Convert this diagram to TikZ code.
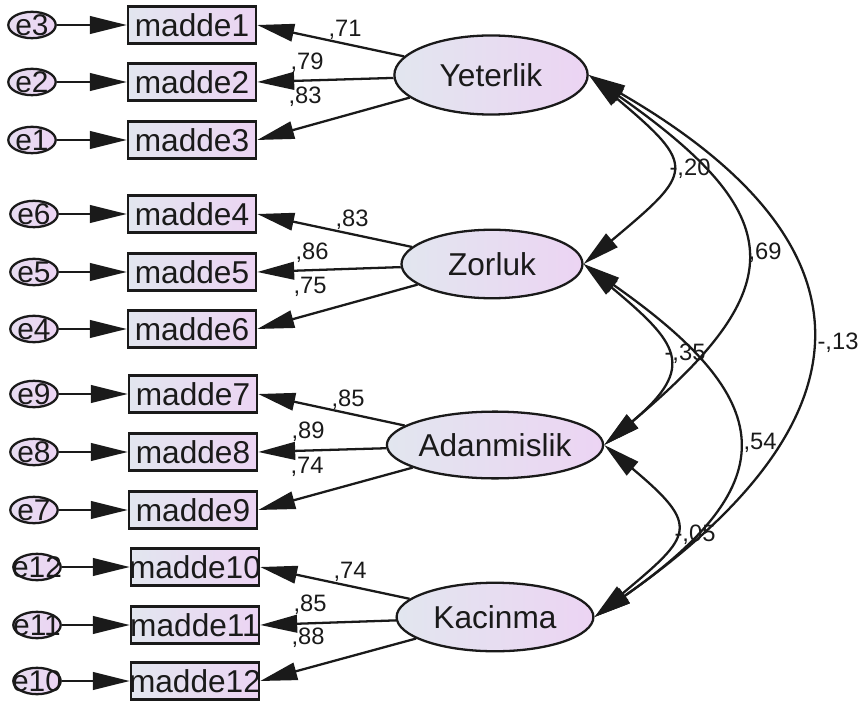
\documentclass[tikz,border=0pt]{standalone}
\usepackage{fontspec}
\setmainfont{Liberation Sans}
\usetikzlibrary{shapes.geometric,arrows.meta}

\definecolor{fillL}{HTML}{E2E6EF}
\definecolor{fillR}{HTML}{ECD4F3}
\definecolor{inkC}{HTML}{1A1A1A}

\newcommand{\BigTxt}{\fontsize{18}{20}\selectfont}
\newcommand{\SmlTxt}{\fontsize{13.5}{15}\selectfont}
\newcommand{\Tip}{Triangle[length=21pt,width=10pt]}

\tikzset{
    obsbox/.style={draw=inkC,line width=1.3pt,left color=fillL,right color=fillR,
        minimum width=73pt,minimum height=21pt,inner sep=0pt,font=\BigTxt,text=inkC},
    latent/.style={draw=inkC,ellipse,line width=1.3pt,left color=fillL,right color=fillR,
        inner sep=0pt,font=\BigTxt,text=inkC},
    errc/.style={draw=inkC,ellipse,line width=1.3pt,left color=fillL!50!fillR,right color=fillR,
        minimum width=27pt,minimum height=15pt,inner sep=0pt},
    errtxt/.style={font=\fontsize{17}{19}\selectfont,inner sep=0pt,text=inkC},
    regarrow/.style={draw=inkC,line width=1.3pt,-{\Tip}},
    covarrow/.style={draw=inkC,line width=1.3pt,{\Tip}-{\Tip}},
    coef/.style={font=\SmlTxt,inner sep=0pt,text=inkC}
}

\begin{document}
\begin{tikzpicture}[x=0.02cm,y=-0.02cm]
        \useasboundingbox (0,0) rectangle (861,702);

        % factors
        \node[latent,minimum width=110pt,minimum height=45pt] (Yet) at (491,75) {Yeterlik};
        \node[latent,minimum width=103pt,minimum height=39pt] (Zor) at (492,264) {Zorluk};
        \node[latent,minimum width=114pt,minimum height=38pt] (Ada) at (495,445) {Adanmislik};
        \node[latent,minimum width=112pt,minimum height=39pt] (Kac) at (495,617) {Kacinma};

        % items and errors
        \foreach \I/\Y/\E/\BX/\EX in {1/25/3/192/32, 2/82/2/192/32, 3/140/1/192/32,
                4/214/6/192/34, 5/272/5/192/34, 6/329/4/192/34,
                7/394/9/193/34, 8/452/8/193/34, 9/510/7/193/34,
                10/567/12/195/37, 11/625/11/195/37, 12/681/10/195/37} {
            \node[obsbox] (m\I) at (\BX,\Y) {\makebox[0pt]{madde\I}};
            \node[errc,label={[errtxt]center:e\E}] (e\E) at (\EX,\Y) {};
            \draw[regarrow] (e\E) -- (m\I);
        }

        % loadings
        \foreach \F/\I/\V/\LX/\LY in {Yet/1/{,71}/345/30, Yet/2/{,79}/307/63, Yet/3/{,83}/305/97,
                Zor/4/{,83}/352/220, Zor/5/{,86}/312/253, Zor/6/{,75}/310/287,
                Ada/7/{,85}/348/400, Ada/8/{,89}/308/432, Ada/9/{,74}/307/467,
                Kac/10/{,74}/350/572, Kac/11/{,85}/310/605, Kac/12/{,88}/308/638} {
            \draw[regarrow] (\F) -- (m\I.east);
            \node[coef] (c\I) at (\LX,\LY) {\V};
        }

        % covariances
        \draw[covarrow] (Yet.east) to[out=-40,in=40,looseness=1.93] (Zor.east);
        \draw[covarrow] (Yet.east) to[out=-35,in=40,looseness=1.70] (Ada.east);
        \draw[covarrow] (Yet.east) to[out=-30,in=35,looseness=1.61] (Kac.east);
        \draw[covarrow] (Zor.east) to[out=-40,in=40,looseness=1.72] (Ada.east);
        \draw[covarrow] (Zor.east) to[out=-35,in=35,looseness=1.71] (Kac.east);
        \draw[covarrow] (Ada.east) to[out=-40,in=40,looseness=1.89] (Kac.east);

        \node[coef] (r12) at (690,169) {-,20};
        \node[coef] (r13) at (765,253) {,69};
        \node[coef] (r14) at (838,343) {-,13};
        \node[coef] (r23) at (685,354) {-,35};
        \node[coef] (r24) at (760,443) {,54};
        \node[coef] (r34) at (695,535) {-,05};

\end{tikzpicture}
\end{document}
